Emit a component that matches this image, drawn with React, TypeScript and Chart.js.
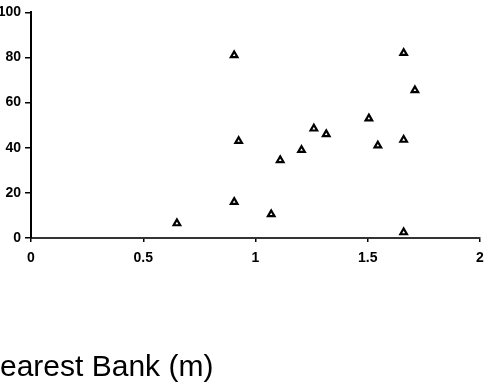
import React, { useEffect, useRef } from "react";
import { Chart, registerables } from "chart.js";

Chart.register(...registerables);

const xValues = [0.65, 0.905, 0.925, 0.905, 1.07, 1.11, 1.205, 1.26, 1.315, 1.505, 1.545, 1.66, 1.66, 1.66, 1.71];
const yValues = [6.5, 16, 43, 81, 10.5, 34.5, 39, 48.5, 46, 53, 41, 43.5, 2.5, 82, 65.5];
const xTickLabels = ["0", "0.5", "1", "1.5", "2"];
const yTickLabels = ["0", "20", "40", "60", "80", "100"];
const axisTitle = "earest Bank (m)";

const FONT = "'Liberation Sans', Arial, Helvetica, sans-serif";

export default function App() {
  const ref = useRef<HTMLCanvasElement>(null);

  useEffect(() => {
    if (!ref.current) return;
    const points = xValues.map((x, i) => ({ x, y: yValues[i] }));
    const chart = new Chart(ref.current, {
      type: "scatter",
      data: {
        datasets: [
          {
            data: points,
            pointStyle: "triangle",
            pointRadius: 3.8,
            pointBorderWidth: 2.2,
            pointBorderColor: "#000",
            pointBackgroundColor: "#fff",
          },
        ],
      },
      options: {
        animation: false,
        responsive: false,
        layout: { padding: { top: 12, right: 21, bottom: 115, left: 0 } },
        plugins: { legend: { display: false }, tooltip: { enabled: false } },
        scales: {
          x: {
            type: "linear",
            min: 0,
            max: 2,
            afterFit: (s: any) => {
              s.height = 30;
            },
            afterBuildTicks: (s: any) => {
              s.ticks = xTickLabels.map((t) => ({ value: parseFloat(t) }));
            },
            ticks: {
              color: "#000",
              padding: 8,
              maxRotation: 0,
              font: { family: FONT, size: 14, weight: "bold" },
              callback: (v: any) => xTickLabels.find((t) => parseFloat(t) === v) ?? "",
            },
            grid: { display: true, drawOnChartArea: false, drawTicks: true, tickLength: 4, color: "#000", lineWidth: 1.5 },
            border: { display: true, color: "#333", width: 2 },
          },
          y: {
            type: "linear",
            min: 0,
            max: 100,
            afterFit: (s: any) => {
              s.width = 31;
            },
            afterBuildTicks: (s: any) => {
              s.ticks = yTickLabels.map((t) => ({ value: parseFloat(t) }));
            },
            ticks: {
              color: "#000",
              padding: 4,
              font: { family: FONT, size: 14, weight: "bold" },
              callback: (v: any) => String(v),
            },
            grid: { display: true, drawOnChartArea: false, drawTicks: true, tickLength: 6, color: "#000", lineWidth: 1.5 },
            border: { display: true, color: "#000", width: 2 },
          },
        },
      },
    });
    return () => chart.destroy();
  }, []);

  return (
    <div style={{ position: "absolute", left: 0, top: 0, width: 501, height: 383, background: "#fff", overflow: "hidden" }}>
      <canvas ref={ref} width={501} height={383} style={{ position: "absolute", left: 0, top: 0, width: 501, height: 383 }} />
      <div
        style={{
          position: "absolute",
          left: 0,
          top: 351,
          fontFamily: FONT,
          fontSize: 30,
          lineHeight: "30px",
          color: "#000",
          whiteSpace: "nowrap",
        }}
      >
        {axisTitle}
      </div>
    </div>
  );
}
